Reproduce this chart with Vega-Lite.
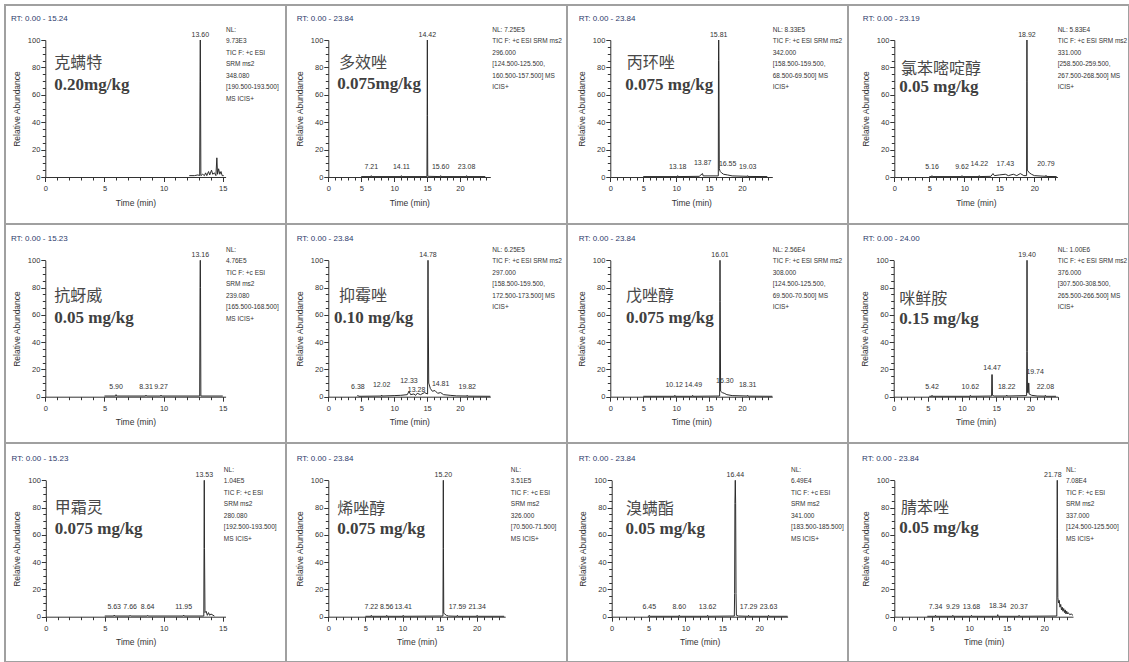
{
"$schema":"https://vega.github.io/schema/vega-lite/v6.json",
"padding":{"left":4,"top":4,"right":0,"bottom":0},
"background":"white",
"bounds":"flush",
"spacing":0,
"columns":4,
"config":{
 "view":{"stroke":"#a0a0a0","strokeWidth":2},
 "axis":{"grid":false,"labelFlush":false,"labelOverlap":false,"domainColor":"#333","tickColor":"#333","domainWidth":1,"tickWidth":1,"labelFont":"Liberation Sans","labelFontSize":7.5,"labelColor":"#333","titleFont":"Liberation Sans","titleFontSize":8.5,"titleFontWeight":"normal","titleColor":"#333"},
 "axisX":{"labelPadding":3,"titlePadding":6},
 "axisY":{"labelPadding":1,"titlePadding":6}
},
"data":{"values":[
{"p":1,"k":"tr","t":12.17,"y":1},{"p":1,"k":"tr","t":12.6,"y":1},{"p":1,"k":"tr","t":12.9,"y":1.5},{"p":1,"k":"tr","t":13.05,"y":1},{"p":1,"k":"tr","t":13.08,"y":70},{"p":1,"k":"tr","t":13.1,"y":100},{"p":1,"k":"tr","t":13.12,"y":70},{"p":1,"k":"tr","t":13.15,"y":1},{"p":1,"k":"tr","t":13.3,"y":2},{"p":1,"k":"tr","t":13.45,"y":1},{"p":1,"k":"tr","t":13.55,"y":3},{"p":1,"k":"tr","t":13.65,"y":1},{"p":1,"k":"tr","t":13.8,"y":4},{"p":1,"k":"tr","t":13.9,"y":1.5},{"p":1,"k":"tr","t":14.05,"y":5},{"p":1,"k":"tr","t":14.15,"y":2},{"p":1,"k":"tr","t":14.3,"y":3},{"p":1,"k":"tr","t":14.42,"y":1},{"p":1,"k":"tr","t":14.5,"y":14},{"p":1,"k":"tr","t":14.56,"y":2},{"p":1,"k":"tr","t":14.65,"y":6},{"p":1,"k":"tr","t":14.75,"y":2},{"p":1,"k":"tr","t":14.85,"y":4},{"p":1,"k":"tr","t":14.95,"y":1},{"p":1,"k":"tr","t":15.08,"y":1},
{"p":1,"k":"rt","t":-2.9,"y":115.5,"s":"RT: 0.00 - 15.24"},{"p":1,"k":"pk","t":13.1,"y":100,"s":"13.60"},{"p":1,"k":"nm","t":0.76,"y":83.4,"s":"克螨特"},{"p":1,"k":"cc","t":0.76,"y":67.2,"s":"0.20mg/kg"},{"p":1,"k":"nl","t":15.27,"y":109.8,"s":"NL:\n9.73E3\nTIC F: +c ESI\nSRM ms2\n348.080\n[190.500-193.500]\nMS ICIS+"},

{"p":2,"k":"tr","t":5.0,"y":0.3},{"p":2,"k":"tr","t":6.5,"y":0.3},{"p":2,"k":"tr","t":6.53,"y":1},{"p":2,"k":"tr","t":6.57,"y":0.3},{"p":2,"k":"tr","t":11.07,"y":0.3},{"p":2,"k":"tr","t":11.1,"y":1},{"p":2,"k":"tr","t":11.14,"y":0.3},{"p":2,"k":"tr","t":14.98,"y":0.3},{"p":2,"k":"tr","t":15.01,"y":45},{"p":2,"k":"tr","t":15.04,"y":100},{"p":2,"k":"tr","t":15.07,"y":45},{"p":2,"k":"tr","t":15.1,"y":0.5},{"p":2,"k":"tr","t":17.03,"y":0.3},{"p":2,"k":"tr","t":17.06,"y":1},{"p":2,"k":"tr","t":17.1,"y":0.3},{"p":2,"k":"tr","t":20.97,"y":0.3},{"p":2,"k":"tr","t":21.0,"y":1},{"p":2,"k":"tr","t":21.04,"y":0.3},{"p":2,"k":"tr","t":23.84,"y":0.3},
{"p":2,"k":"rt","t":-4.8,"y":115.5,"s":"RT: 0.00 - 23.84"},{"p":2,"k":"pk","t":15.04,"y":100,"s":"14.42"},{"p":2,"k":"pk","t":6.53,"y":4,"s":"7.21"},{"p":2,"k":"pk","t":11.1,"y":4,"s":"14.11"},{"p":2,"k":"pk","t":17.06,"y":4,"s":"15.60"},{"p":2,"k":"pk","t":21.0,"y":4,"s":"23.08"},{"p":2,"k":"nm","t":1.62,"y":83.4,"s":"多效唑"},{"p":2,"k":"cc","t":1.37,"y":67.7,"s":"0.075mg/kg"},{"p":2,"k":"nl","t":24.9,"y":109.8,"s":"NL: 7.25E5\nTIC F: +c ESI SRM ms2\n296.000\n[124.500-125.500,\n160.500-157.500] MS\nICIS+"},

{"p":3,"k":"tr","t":5.0,"y":0.3},{"p":3,"k":"tr","t":10.2,"y":0.3},{"p":3,"k":"tr","t":10.23,"y":1},{"p":3,"k":"tr","t":10.27,"y":0.3},{"p":3,"k":"tr","t":13.5,"y":0.5},{"p":3,"k":"tr","t":14.0,"y":2.5},{"p":3,"k":"tr","t":14.1,"y":0.8},{"p":3,"k":"tr","t":16.4,"y":0.8},{"p":3,"k":"tr","t":16.43,"y":85},{"p":3,"k":"tr","t":16.46,"y":100},{"p":3,"k":"tr","t":16.49,"y":85},{"p":3,"k":"tr","t":16.55,"y":6},{"p":3,"k":"tr","t":16.7,"y":4},{"p":3,"k":"tr","t":16.9,"y":3},{"p":3,"k":"tr","t":17.2,"y":2},{"p":3,"k":"tr","t":17.8,"y":1.5},{"p":3,"k":"tr","t":18.5,"y":0.8},{"p":3,"k":"tr","t":20.83,"y":0.5},{"p":3,"k":"tr","t":20.86,"y":1},{"p":3,"k":"tr","t":20.9,"y":0.4},{"p":3,"k":"tr","t":23.84,"y":0.3},
{"p":3,"k":"rt","t":-4.8,"y":115.5,"s":"RT: 0.00 - 23.84"},{"p":3,"k":"pk","t":16.46,"y":100,"s":"15.81"},{"p":3,"k":"pk","t":10.23,"y":4,"s":"13.18"},{"p":3,"k":"pk","t":14.03,"y":6.5,"s":"13.87"},{"p":3,"k":"pk","t":17.82,"y":5.5,"s":"16.55"},{"p":3,"k":"pk","t":20.86,"y":4,"s":"19.03"},{"p":3,"k":"nm","t":2.49,"y":83.4,"s":"丙环唑"},{"p":3,"k":"cc","t":2.28,"y":66.9,"s":"0.075 mg/kg"},{"p":3,"k":"nl","t":24.66,"y":109.8,"s":"NL: 8.33E5\nTIC F: +c ESI SRM ms2\n342.000\n[158.500-159.500,\n68.500-69.500] MS\nICIS+"},

{"p":4,"k":"tr","t":5.0,"y":0.3},{"p":4,"k":"tr","t":5.35,"y":0.3},{"p":4,"k":"tr","t":5.38,"y":1},{"p":4,"k":"tr","t":5.42,"y":0.3},{"p":4,"k":"tr","t":9.64,"y":0.3},{"p":4,"k":"tr","t":9.67,"y":1},{"p":4,"k":"tr","t":9.71,"y":0.3},{"p":4,"k":"tr","t":12.11,"y":0.3},{"p":4,"k":"tr","t":12.14,"y":1},{"p":4,"k":"tr","t":12.18,"y":0.3},{"p":4,"k":"tr","t":13.8,"y":0.5},{"p":4,"k":"tr","t":14.1,"y":2.5},{"p":4,"k":"tr","t":14.3,"y":1},{"p":4,"k":"tr","t":15.0,"y":1.5},{"p":4,"k":"tr","t":15.86,"y":2},{"p":4,"k":"tr","t":16.3,"y":1},{"p":4,"k":"tr","t":17.0,"y":2},{"p":4,"k":"tr","t":17.5,"y":1},{"p":4,"k":"tr","t":18.0,"y":2.5},{"p":4,"k":"tr","t":18.5,"y":1},{"p":4,"k":"tr","t":18.9,"y":1},{"p":4,"k":"tr","t":18.93,"y":70},{"p":4,"k":"tr","t":18.95,"y":100},{"p":4,"k":"tr","t":18.97,"y":70},{"p":4,"k":"tr","t":19.0,"y":5},{"p":4,"k":"tr","t":19.3,"y":3},{"p":4,"k":"tr","t":19.6,"y":2},{"p":4,"k":"tr","t":20.0,"y":1},{"p":4,"k":"tr","t":21.64,"y":0.5},{"p":4,"k":"tr","t":21.67,"y":1.2},{"p":4,"k":"tr","t":21.71,"y":0.4},{"p":4,"k":"tr","t":23.19,"y":0.3},
{"p":4,"k":"rt","t":-4.5,"y":115.5,"s":"RT: 0.00 - 23.19"},{"p":4,"k":"pk","t":18.95,"y":100,"s":"18.92"},{"p":4,"k":"pk","t":5.38,"y":4,"s":"5.16"},{"p":4,"k":"pk","t":9.67,"y":4,"s":"9.62"},{"p":4,"k":"pk","t":12.14,"y":6,"s":"14.22"},{"p":4,"k":"pk","t":15.86,"y":6,"s":"17.43"},{"p":4,"k":"pk","t":21.67,"y":5.5,"s":"20.79"},{"p":4,"k":"nm","t":0.96,"y":78.6,"s":"氯苯嘧啶醇"},{"p":4,"k":"cc","t":0.71,"y":65.5,"s":"0.05 mg/kg"},{"p":4,"k":"nl","t":23.34,"y":109.8,"s":"NL: 5.83E4\nTIC F: +c ESI SRM ms2\n331.000\n[258.500-259.500,\n267.500-268.500] MS\nICIS+"},

{"p":5,"k":"tr","t":5.0,"y":0.5},{"p":5,"k":"tr","t":5.95,"y":0.5},{"p":5,"k":"tr","t":5.98,"y":1.5},{"p":5,"k":"tr","t":6.02,"y":0.5},{"p":5,"k":"tr","t":8.48,"y":0.5},{"p":5,"k":"tr","t":8.51,"y":1.2},{"p":5,"k":"tr","t":8.55,"y":0.5},{"p":5,"k":"tr","t":9.75,"y":0.5},{"p":5,"k":"tr","t":9.78,"y":1.2},{"p":5,"k":"tr","t":9.82,"y":0.5},{"p":5,"k":"tr","t":13.05,"y":0.5},{"p":5,"k":"tr","t":13.08,"y":80},{"p":5,"k":"tr","t":13.1,"y":100},{"p":5,"k":"tr","t":13.12,"y":80},{"p":5,"k":"tr","t":13.15,"y":0.5},{"p":5,"k":"tr","t":15.0,"y":0.5},
{"p":5,"k":"rt","t":-2.9,"y":115.5,"s":"RT: 0.00 - 15.23"},{"p":5,"k":"pk","t":13.1,"y":100,"s":"13.16"},{"p":5,"k":"pk","t":5.98,"y":3.3,"s":"5.90"},{"p":5,"k":"pk","t":8.51,"y":3.3,"s":"8.31"},{"p":5,"k":"pk","t":9.78,"y":3.3,"s":"9.27"},{"p":5,"k":"nm","t":0.76,"y":73.8,"s":"抗蚜威"},{"p":5,"k":"cc","t":0.76,"y":57.5,"s":"0.05 mg/kg"},{"p":5,"k":"nl","t":15.27,"y":109.8,"s":"NL:\n4.76E5\nTIC F: +c ESI\nSRM ms2\n239.080\n[165.500-168.500]\nMS ICIS+"},

{"p":6,"k":"tr","t":4.4,"y":0.3},{"p":6,"k":"tr","t":4.5,"y":1},{"p":6,"k":"tr","t":4.6,"y":0.3},{"p":6,"k":"tr","t":8.07,"y":0.5},{"p":6,"k":"tr","t":8.1,"y":1.2},{"p":6,"k":"tr","t":8.14,"y":0.5},{"p":6,"k":"tr","t":10.0,"y":0.8},{"p":6,"k":"tr","t":11.0,"y":1},{"p":6,"k":"tr","t":12.0,"y":1.5},{"p":6,"k":"tr","t":12.25,"y":4},{"p":6,"k":"tr","t":12.5,"y":1.5},{"p":6,"k":"tr","t":13.0,"y":2},{"p":6,"k":"tr","t":13.27,"y":1},{"p":6,"k":"tr","t":13.5,"y":2.5},{"p":6,"k":"tr","t":14.0,"y":1.5},{"p":6,"k":"tr","t":14.6,"y":3},{"p":6,"k":"tr","t":15.08,"y":2},{"p":6,"k":"tr","t":15.11,"y":65},{"p":6,"k":"tr","t":15.14,"y":100},{"p":6,"k":"tr","t":15.17,"y":65},{"p":6,"k":"tr","t":15.25,"y":10},{"p":6,"k":"tr","t":15.5,"y":6},{"p":6,"k":"tr","t":15.8,"y":4},{"p":6,"k":"tr","t":16.2,"y":4.5},{"p":6,"k":"tr","t":16.6,"y":2.5},{"p":6,"k":"tr","t":17.06,"y":3},{"p":6,"k":"tr","t":17.5,"y":1.5},{"p":6,"k":"tr","t":18.5,"y":1},{"p":6,"k":"tr","t":19.5,"y":0.6},{"p":6,"k":"tr","t":21.07,"y":0.5},{"p":6,"k":"tr","t":21.1,"y":1},{"p":6,"k":"tr","t":21.14,"y":0.4},{"p":6,"k":"tr","t":24.6,"y":0.3},
{"p":6,"k":"rt","t":-4.8,"y":115.5,"s":"RT: 0.00 - 23.84"},{"p":6,"k":"pk","t":15.14,"y":100,"s":"14.78"},{"p":6,"k":"pk","t":4.5,"y":3.3,"s":"6.38"},{"p":6,"k":"pk","t":8.1,"y":5,"s":"12.02"},{"p":6,"k":"pk","t":12.25,"y":8,"s":"12.33"},{"p":6,"k":"pk","t":13.4,"y":1.3,"s":"13.28"},{"p":6,"k":"pk","t":17.06,"y":5.7,"s":"14.81"},{"p":6,"k":"pk","t":21.1,"y":3.8,"s":"19.82"},{"p":6,"k":"nm","t":1.62,"y":73.8,"s":"抑霉唑"},{"p":6,"k":"cc","t":0.87,"y":57.9,"s":"0.10 mg/kg"},{"p":6,"k":"nl","t":24.9,"y":109.8,"s":"NL: 6.25E5\nTIC F: +c ESI SRM ms2\n297.000\n[158.500-159.500,\n172.500-173.500] MS\nICIS+"},

{"p":7,"k":"tr","t":5.0,"y":0.3},{"p":7,"k":"tr","t":9.77,"y":0.3},{"p":7,"k":"tr","t":9.8,"y":1},{"p":7,"k":"tr","t":9.84,"y":0.3},{"p":7,"k":"tr","t":12.47,"y":0.3},{"p":7,"k":"tr","t":12.5,"y":1},{"p":7,"k":"tr","t":12.54,"y":0.3},{"p":7,"k":"tr","t":16.6,"y":0.5},{"p":7,"k":"tr","t":16.63,"y":70},{"p":7,"k":"tr","t":16.66,"y":100},{"p":7,"k":"tr","t":16.69,"y":70},{"p":7,"k":"tr","t":16.75,"y":4},{"p":7,"k":"tr","t":17.0,"y":3},{"p":7,"k":"tr","t":17.3,"y":2.5},{"p":7,"k":"tr","t":17.7,"y":1.5},{"p":7,"k":"tr","t":18.5,"y":0.8},{"p":7,"k":"tr","t":20.83,"y":0.5},{"p":7,"k":"tr","t":20.86,"y":1},{"p":7,"k":"tr","t":20.9,"y":0.4},{"p":7,"k":"tr","t":24.6,"y":0.3},
{"p":7,"k":"rt","t":-4.8,"y":115.5,"s":"RT: 0.00 - 23.84"},{"p":7,"k":"pk","t":16.66,"y":100,"s":"16.01"},{"p":7,"k":"pk","t":9.7,"y":5,"s":"10.12"},{"p":7,"k":"pk","t":12.6,"y":5,"s":"14.49"},{"p":7,"k":"pk","t":17.4,"y":7.5,"s":"16.30"},{"p":7,"k":"pk","t":20.86,"y":5,"s":"18.31"},{"p":7,"k":"nm","t":2.38,"y":73.8,"s":"戊唑醇"},{"p":7,"k":"cc","t":2.38,"y":57.9,"s":"0.075 mg/kg"},{"p":7,"k":"nl","t":24.66,"y":109.8,"s":"NL: 2.56E4\nTIC F: +c ESI SRM ms2\n308.000\n[124.500-125.500,\n69.500-70.500] MS\nICIS+"},

{"p":8,"k":"tr","t":5.2,"y":0.3},{"p":8,"k":"tr","t":5.58,"y":0.3},{"p":8,"k":"tr","t":5.61,"y":1},{"p":8,"k":"tr","t":5.65,"y":0.3},{"p":8,"k":"tr","t":11.19,"y":0.3},{"p":8,"k":"tr","t":11.22,"y":1},{"p":8,"k":"tr","t":11.26,"y":0.3},{"p":8,"k":"tr","t":14.33,"y":0.5},{"p":8,"k":"tr","t":14.36,"y":16},{"p":8,"k":"tr","t":14.39,"y":16.3},{"p":8,"k":"tr","t":14.42,"y":16},{"p":8,"k":"tr","t":14.45,"y":1},{"p":8,"k":"tr","t":14.7,"y":0.5},{"p":8,"k":"tr","t":16.51,"y":0.5},{"p":8,"k":"tr","t":16.54,"y":1.2},{"p":8,"k":"tr","t":16.58,"y":0.5},{"p":8,"k":"tr","t":19.45,"y":0.8},{"p":8,"k":"tr","t":19.48,"y":33},{"p":8,"k":"tr","t":19.51,"y":100},{"p":8,"k":"tr","t":19.54,"y":33},{"p":8,"k":"tr","t":19.58,"y":3},{"p":8,"k":"tr","t":19.7,"y":3},{"p":8,"k":"tr","t":19.74,"y":10},{"p":8,"k":"tr","t":19.78,"y":10},{"p":8,"k":"tr","t":19.82,"y":2},{"p":8,"k":"tr","t":20.2,"y":1},{"p":8,"k":"tr","t":21.0,"y":0.5},{"p":8,"k":"tr","t":22.17,"y":0.4},{"p":8,"k":"tr","t":22.2,"y":1},{"p":8,"k":"tr","t":22.24,"y":0.3},{"p":8,"k":"tr","t":23.76,"y":0.3},
{"p":8,"k":"rt","t":-4.5,"y":115.5,"s":"RT: 0.00 - 24.00"},{"p":8,"k":"pk","t":19.51,"y":100,"s":"19.40"},{"p":8,"k":"pk","t":14.39,"y":17.5,"s":"14.47"},{"p":8,"k":"pk","t":20.7,"y":14.8,"s":"19.74"},{"p":8,"k":"pk","t":5.61,"y":3.3,"s":"5.42"},{"p":8,"k":"pk","t":11.22,"y":3.3,"s":"10.62"},{"p":8,"k":"pk","t":16.54,"y":3.3,"s":"18.22"},{"p":8,"k":"pk","t":22.2,"y":3.3,"s":"22.08"},{"p":8,"k":"nm","t":0.82,"y":71.4,"s":"咪鲜胺"},{"p":8,"k":"cc","t":0.82,"y":56.7,"s":"0.15 mg/kg"},{"p":8,"k":"nl","t":24.0,"y":109.8,"s":"NL: 1.00E6\nTIC F: +c ESI SRM ms2\n376.000\n[307.500-308.500,\n265.500-266.500] MS\nICIS+"},

{"p":9,"k":"tr","t":5.0,"y":0.5},{"p":9,"k":"tr","t":5.77,"y":0.5},{"p":9,"k":"tr","t":5.8,"y":1.2},{"p":9,"k":"tr","t":5.84,"y":0.5},{"p":9,"k":"tr","t":7.12,"y":0.5},{"p":9,"k":"tr","t":7.15,"y":1},{"p":9,"k":"tr","t":7.19,"y":0.5},{"p":9,"k":"tr","t":8.61,"y":0.5},{"p":9,"k":"tr","t":8.64,"y":1},{"p":9,"k":"tr","t":8.68,"y":0.5},{"p":9,"k":"tr","t":11.66,"y":0.5},{"p":9,"k":"tr","t":11.69,"y":1.2},{"p":9,"k":"tr","t":11.73,"y":0.5},{"p":9,"k":"tr","t":13.4,"y":0.5},{"p":9,"k":"tr","t":13.42,"y":50},{"p":9,"k":"tr","t":13.44,"y":100},{"p":9,"k":"tr","t":13.46,"y":50},{"p":9,"k":"tr","t":13.5,"y":3},{"p":9,"k":"tr","t":13.6,"y":4},{"p":9,"k":"tr","t":13.7,"y":1},{"p":9,"k":"tr","t":13.8,"y":3},{"p":9,"k":"tr","t":13.9,"y":1},{"p":9,"k":"tr","t":14.0,"y":2},{"p":9,"k":"tr","t":14.3,"y":0.5},
{"p":9,"k":"rt","t":-2.9,"y":115.5,"s":"RT: 0.00 - 15.23"},{"p":9,"k":"pk","t":13.44,"y":100,"s":"13.53"},{"p":9,"k":"pk","t":5.8,"y":3.3,"s":"5.63"},{"p":9,"k":"pk","t":7.15,"y":3.3,"s":"7.66"},{"p":9,"k":"pk","t":8.64,"y":3.3,"s":"8.64"},{"p":9,"k":"pk","t":11.69,"y":3.3,"s":"11.95"},{"p":9,"k":"nm","t":0.76,"y":79.9,"s":"甲霜灵"},{"p":9,"k":"cc","t":0.76,"y":64.1,"s":"0.075 mg/kg"},{"p":9,"k":"nl","t":15.1,"y":109.8,"s":"NL:\n1.04E5\nTIC F: +c ESI\nSRM ms2\n280.080\n[192.500-193.500]\nMS ICIS+"},

{"p":10,"k":"tr","t":5.0,"y":0.3},{"p":10,"k":"tr","t":5.77,"y":0.3},{"p":10,"k":"tr","t":5.8,"y":1},{"p":10,"k":"tr","t":5.84,"y":0.3},{"p":10,"k":"tr","t":7.84,"y":0.3},{"p":10,"k":"tr","t":7.87,"y":1},{"p":10,"k":"tr","t":7.91,"y":0.3},{"p":10,"k":"tr","t":10.07,"y":0.3},{"p":10,"k":"tr","t":10.1,"y":1},{"p":10,"k":"tr","t":10.14,"y":0.3},{"p":10,"k":"tr","t":15.45,"y":0.5},{"p":10,"k":"tr","t":15.48,"y":50},{"p":10,"k":"tr","t":15.5,"y":100},{"p":10,"k":"tr","t":15.52,"y":50},{"p":10,"k":"tr","t":15.56,"y":2.5},{"p":10,"k":"tr","t":15.7,"y":2},{"p":10,"k":"tr","t":15.9,"y":1},{"p":10,"k":"tr","t":16.2,"y":0.5},{"p":10,"k":"tr","t":17.37,"y":0.3},{"p":10,"k":"tr","t":17.4,"y":1},{"p":10,"k":"tr","t":17.44,"y":0.3},{"p":10,"k":"tr","t":20.03,"y":0.3},{"p":10,"k":"tr","t":20.06,"y":1},{"p":10,"k":"tr","t":20.1,"y":0.3},{"p":10,"k":"tr","t":23.7,"y":0.3},
{"p":10,"k":"rt","t":-4.26,"y":115.5,"s":"RT: 0.00 - 23.84"},{"p":10,"k":"pk","t":15.5,"y":100,"s":"15.20"},{"p":10,"k":"pk","t":5.8,"y":3.3,"s":"7.22"},{"p":10,"k":"pk","t":7.87,"y":3.3,"s":"8.56"},{"p":10,"k":"pk","t":10.1,"y":3.3,"s":"13.41"},{"p":10,"k":"pk","t":17.4,"y":3.3,"s":"17.59"},{"p":10,"k":"pk","t":20.06,"y":3.3,"s":"21.34"},{"p":10,"k":"nm","t":1.21,"y":78.7,"s":"烯唑醇"},{"p":10,"k":"cc","t":1.21,"y":64.1,"s":"0.075 mg/kg"},{"p":10,"k":"nl","t":24.6,"y":109.8,"s":"NL:\n3.51E5\nTIC F: +c ESI\nSRM ms2\n326.000\n[70.500-71.500]\nMS ICIS+"},

{"p":11,"k":"tr","t":4.9,"y":0.3},{"p":11,"k":"tr","t":5.07,"y":0.3},{"p":11,"k":"tr","t":5.1,"y":1},{"p":11,"k":"tr","t":5.14,"y":0.3},{"p":11,"k":"tr","t":9.13,"y":0.3},{"p":11,"k":"tr","t":9.16,"y":1},{"p":11,"k":"tr","t":9.2,"y":0.3},{"p":11,"k":"tr","t":12.97,"y":0.3},{"p":11,"k":"tr","t":13.0,"y":1},{"p":11,"k":"tr","t":13.04,"y":0.3},{"p":11,"k":"tr","t":16.62,"y":0.5},{"p":11,"k":"tr","t":16.66,"y":17},{"p":11,"k":"tr","t":16.7,"y":83},{"p":11,"k":"tr","t":16.75,"y":100},{"p":11,"k":"tr","t":16.8,"y":83},{"p":11,"k":"tr","t":16.85,"y":17},{"p":11,"k":"tr","t":16.9,"y":1},{"p":11,"k":"tr","t":17.2,"y":0.5},{"p":11,"k":"tr","t":18.52,"y":0.3},{"p":11,"k":"tr","t":18.55,"y":1},{"p":11,"k":"tr","t":18.59,"y":0.3},{"p":11,"k":"tr","t":21.23,"y":0.3},{"p":11,"k":"tr","t":21.26,"y":1},{"p":11,"k":"tr","t":21.3,"y":0.3},{"p":11,"k":"tr","t":23.84,"y":0.3},
{"p":11,"k":"rt","t":-4.47,"y":115.5,"s":"RT: 0.00 - 23.84"},{"p":11,"k":"pk","t":16.75,"y":100,"s":"16.44"},{"p":11,"k":"pk","t":5.1,"y":3.3,"s":"6.45"},{"p":11,"k":"pk","t":9.16,"y":3.3,"s":"8.60"},{"p":11,"k":"pk","t":13.0,"y":3.3,"s":"13.62"},{"p":11,"k":"pk","t":18.55,"y":3.3,"s":"17.29"},{"p":11,"k":"pk","t":21.26,"y":3.3,"s":"23.63"},{"p":11,"k":"nm","t":1.94,"y":78.7,"s":"溴螨酯"},{"p":11,"k":"cc","t":1.88,"y":64.1,"s":"0.05 mg/kg"},{"p":11,"k":"nl","t":24.3,"y":109.8,"s":"NL:\n6.49E4\nTIC F: +c ESI\nSRM ms2\n341.000\n[183.500-185.500]\nMS ICIS+"},

{"p":12,"k":"tr","t":4.4,"y":0.3},{"p":12,"k":"tr","t":5.47,"y":0.3},{"p":12,"k":"tr","t":5.5,"y":1},{"p":12,"k":"tr","t":5.54,"y":0.3},{"p":12,"k":"tr","t":7.77,"y":0.3},{"p":12,"k":"tr","t":7.8,"y":1},{"p":12,"k":"tr","t":7.84,"y":0.3},{"p":12,"k":"tr","t":10.27,"y":0.3},{"p":12,"k":"tr","t":10.3,"y":1},{"p":12,"k":"tr","t":10.34,"y":0.3},{"p":12,"k":"tr","t":13.77,"y":0.3},{"p":12,"k":"tr","t":13.8,"y":1.5},{"p":12,"k":"tr","t":13.84,"y":0.3},{"p":12,"k":"tr","t":16.62,"y":0.3},{"p":12,"k":"tr","t":16.65,"y":1},{"p":12,"k":"tr","t":16.69,"y":0.3},{"p":12,"k":"tr","t":21.68,"y":0.5},{"p":12,"k":"tr","t":21.71,"y":57},{"p":12,"k":"tr","t":21.74,"y":100},{"p":12,"k":"tr","t":21.77,"y":57},{"p":12,"k":"tr","t":21.82,"y":14},{"p":12,"k":"tr","t":21.9,"y":10},{"p":12,"k":"tr","t":22.0,"y":12},{"p":12,"k":"tr","t":22.1,"y":7},{"p":12,"k":"tr","t":22.2,"y":9},{"p":12,"k":"tr","t":22.3,"y":5},{"p":12,"k":"tr","t":22.4,"y":7},{"p":12,"k":"tr","t":22.5,"y":4},{"p":12,"k":"tr","t":22.6,"y":6},{"p":12,"k":"tr","t":22.7,"y":3},{"p":12,"k":"tr","t":22.8,"y":5},{"p":12,"k":"tr","t":22.9,"y":2},{"p":12,"k":"tr","t":23.0,"y":4},{"p":12,"k":"tr","t":23.1,"y":2},{"p":12,"k":"tr","t":23.2,"y":3},{"p":12,"k":"tr","t":23.4,"y":1.5},{"p":12,"k":"tr","t":23.6,"y":2},{"p":12,"k":"tr","t":23.84,"y":1},
{"p":12,"k":"rt","t":-4.3,"y":115.5,"s":"RT: 0.00 - 23.84"},{"p":12,"k":"pk","t":21.15,"y":100,"s":"21.78"},{"p":12,"k":"pk","t":5.5,"y":3.3,"s":"7.34"},{"p":12,"k":"pk","t":7.8,"y":3.3,"s":"9.29"},{"p":12,"k":"pk","t":10.3,"y":3.3,"s":"13.68"},{"p":12,"k":"pk","t":13.8,"y":4.5,"s":"18.34"},{"p":12,"k":"pk","t":16.65,"y":3.3,"s":"20.37"},{"p":12,"k":"nm","t":0.89,"y":79.9,"s":"腈苯唑"},{"p":12,"k":"cc","t":0.67,"y":64.8,"s":"0.05 mg/kg"},{"p":12,"k":"nl","t":22.9,"y":109.8,"s":"NL:\n7.08E4\nTIC F: +c ESI\nSRM ms2\n337.000\n[124.500-125.500]\nMS ICIS+"}
]},
"concat":[
{"width":281,"height":219,"transform":[{"filter":"datum.p==1"}],
 "encoding":{
  "x":{"field":"t","type":"quantitative","scale":{"domain":[0,15.24],"range":[40.3,220.6],"nice":false,"zero":false},"axis":{"offset":-47,"values":[0,1,2,3,4,5,6,7,8,9,10,11,12,13,14,15],"labelExpr":"datum.value % 5 === 0 ? datum.label : ''","tickSize":{"condition":{"test":"datum.value % 5 === 0","value":4.5},"value":3},"title":"Time (min)"}},
  "y":{"field":"y","type":"quantitative","scale":{"domain":[0,100],"range":[172,35],"nice":false,"zero":false},"axis":{"offset":-40.3,"values":[0,5,10,15,20,25,30,35,40,45,50,55,60,65,70,75,80,85,90,95,100],"labelExpr":"datum.value % 20 === 0 ? datum.label : ''","tickSize":{"condition":{"test":"datum.value % 20 === 0","value":4.5},"value":3},"title":"Relative Abundance"}}},
 "layer":[
  {"transform":[{"filter":"datum.k=='tr'"}],"mark":{"type":"line","color":"#2b2b2b","strokeWidth":1}},
  {"transform":[{"filter":"datum.k=='rt'"}],"mark":{"type":"text","align":"left","baseline":"middle","font":"Liberation Sans","fontSize":8,"color":"#2d3a6b"},"encoding":{"text":{"field":"s"}}},
  {"transform":[{"filter":"datum.k=='pk'"}],"mark":{"type":"text","align":"center","baseline":"bottom","dy":-2,"font":"Liberation Sans","fontSize":7,"color":"#333"},"encoding":{"text":{"field":"s"}}},
  {"transform":[{"filter":"datum.k=='nm'"}],"mark":{"type":"text","align":"left","baseline":"middle","font":"Noto Sans CJK SC","fontSize":16,"color":"#484848"},"encoding":{"text":{"field":"s"}}},
  {"transform":[{"filter":"datum.k=='cc'"}],"mark":{"type":"text","align":"left","baseline":"middle","font":"Liberation Serif","fontSize":17,"fontWeight":"bold","color":"#404040"},"encoding":{"text":{"field":"s"}}},
  {"transform":[{"filter":"datum.k=='nl'"}],"mark":{"type":"text","align":"left","baseline":"top","font":"Liberation Sans","fontSize":6.5,"lineHeight":11.5,"lineBreak":"\n","color":"#333"},"encoding":{"text":{"field":"s"}}}
 ]},
{"width":281,"height":219,"transform":[{"filter":"datum.p==2"}],
 "encoding":{
  "x":{"field":"t","type":"quantitative","scale":{"domain":[0,24.6],"range":[42.3,204.3],"nice":false,"zero":false},"axis":{"offset":-47,"values":[0,1,2,3,4,5,6,7,8,9,10,11,12,13,14,15,16,17,18,19,20,21,22,23,24],"labelExpr":"datum.value % 5 === 0 ? datum.label : ''","tickSize":{"condition":{"test":"datum.value % 5 === 0","value":4.5},"value":3},"title":"Time (min)"}},
  "y":{"field":"y","type":"quantitative","scale":{"domain":[0,100],"range":[172,35],"nice":false,"zero":false},"axis":{"offset":-42.3,"values":[0,5,10,15,20,25,30,35,40,45,50,55,60,65,70,75,80,85,90,95,100],"labelExpr":"datum.value % 20 === 0 ? datum.label : ''","tickSize":{"condition":{"test":"datum.value % 20 === 0","value":4.5},"value":3},"title":"Relative Abundance"}}},
 "layer":[
  {"transform":[{"filter":"datum.k=='tr'"}],"mark":{"type":"line","color":"#2b2b2b","strokeWidth":1}},
  {"transform":[{"filter":"datum.k=='rt'"}],"mark":{"type":"text","align":"left","baseline":"middle","font":"Liberation Sans","fontSize":8,"color":"#2d3a6b"},"encoding":{"text":{"field":"s"}}},
  {"transform":[{"filter":"datum.k=='pk'"}],"mark":{"type":"text","align":"center","baseline":"bottom","dy":-2,"font":"Liberation Sans","fontSize":7,"color":"#333"},"encoding":{"text":{"field":"s"}}},
  {"transform":[{"filter":"datum.k=='nm'"}],"mark":{"type":"text","align":"left","baseline":"middle","font":"Noto Sans CJK SC","fontSize":16,"color":"#484848"},"encoding":{"text":{"field":"s"}}},
  {"transform":[{"filter":"datum.k=='cc'"}],"mark":{"type":"text","align":"left","baseline":"middle","font":"Liberation Serif","fontSize":17,"fontWeight":"bold","color":"#404040"},"encoding":{"text":{"field":"s"}}},
  {"transform":[{"filter":"datum.k=='nl'"}],"mark":{"type":"text","align":"left","baseline":"top","font":"Liberation Sans","fontSize":6.5,"lineHeight":11.5,"lineBreak":"\n","color":"#333"},"encoding":{"text":{"field":"s"}}}
 ]},
{"width":281,"height":219,"transform":[{"filter":"datum.p==3"}],
 "encoding":{
  "x":{"field":"t","type":"quantitative","scale":{"domain":[0,24.6],"range":[43.3,205.3],"nice":false,"zero":false},"axis":{"offset":-47,"values":[0,1,2,3,4,5,6,7,8,9,10,11,12,13,14,15,16,17,18,19,20,21,22,23,24],"labelExpr":"datum.value % 5 === 0 ? datum.label : ''","tickSize":{"condition":{"test":"datum.value % 5 === 0","value":4.5},"value":3},"title":"Time (min)"}},
  "y":{"field":"y","type":"quantitative","scale":{"domain":[0,100],"range":[172,35],"nice":false,"zero":false},"axis":{"offset":-43.3,"values":[0,5,10,15,20,25,30,35,40,45,50,55,60,65,70,75,80,85,90,95,100],"labelExpr":"datum.value % 20 === 0 ? datum.label : ''","tickSize":{"condition":{"test":"datum.value % 20 === 0","value":4.5},"value":3},"title":"Relative Abundance"}}},
 "layer":[
  {"transform":[{"filter":"datum.k=='tr'"}],"mark":{"type":"line","color":"#2b2b2b","strokeWidth":1}},
  {"transform":[{"filter":"datum.k=='rt'"}],"mark":{"type":"text","align":"left","baseline":"middle","font":"Liberation Sans","fontSize":8,"color":"#2d3a6b"},"encoding":{"text":{"field":"s"}}},
  {"transform":[{"filter":"datum.k=='pk'"}],"mark":{"type":"text","align":"center","baseline":"bottom","dy":-2,"font":"Liberation Sans","fontSize":7,"color":"#333"},"encoding":{"text":{"field":"s"}}},
  {"transform":[{"filter":"datum.k=='nm'"}],"mark":{"type":"text","align":"left","baseline":"middle","font":"Noto Sans CJK SC","fontSize":16,"color":"#484848"},"encoding":{"text":{"field":"s"}}},
  {"transform":[{"filter":"datum.k=='cc'"}],"mark":{"type":"text","align":"left","baseline":"middle","font":"Liberation Serif","fontSize":17,"fontWeight":"bold","color":"#404040"},"encoding":{"text":{"field":"s"}}},
  {"transform":[{"filter":"datum.k=='nl'"}],"mark":{"type":"text","align":"left","baseline":"top","font":"Liberation Sans","fontSize":6.5,"lineHeight":11.5,"lineBreak":"\n","color":"#333"},"encoding":{"text":{"field":"s"}}}
 ]},
{"width":281,"height":219,"transform":[{"filter":"datum.p==4"}],
 "encoding":{
  "x":{"field":"t","type":"quantitative","scale":{"domain":[0,23.3],"range":[46.3,209.4],"nice":false,"zero":false},"axis":{"offset":-47,"values":[0,1,2,3,4,5,6,7,8,9,10,11,12,13,14,15,16,17,18,19,20,21,22,23],"labelExpr":"datum.value % 5 === 0 ? datum.label : ''","tickSize":{"condition":{"test":"datum.value % 5 === 0","value":4.5},"value":3},"title":"Time (min)"}},
  "y":{"field":"y","type":"quantitative","scale":{"domain":[0,100],"range":[172,35],"nice":false,"zero":false},"axis":{"offset":-46.3,"values":[0,5,10,15,20,25,30,35,40,45,50,55,60,65,70,75,80,85,90,95,100],"labelExpr":"datum.value % 20 === 0 ? datum.label : ''","tickSize":{"condition":{"test":"datum.value % 20 === 0","value":4.5},"value":3},"title":"Relative Abundance"}}},
 "layer":[
  {"transform":[{"filter":"datum.k=='tr'"}],"mark":{"type":"line","color":"#2b2b2b","strokeWidth":1}},
  {"transform":[{"filter":"datum.k=='rt'"}],"mark":{"type":"text","align":"left","baseline":"middle","font":"Liberation Sans","fontSize":8,"color":"#2d3a6b"},"encoding":{"text":{"field":"s"}}},
  {"transform":[{"filter":"datum.k=='pk'"}],"mark":{"type":"text","align":"center","baseline":"bottom","dy":-2,"font":"Liberation Sans","fontSize":7,"color":"#333"},"encoding":{"text":{"field":"s"}}},
  {"transform":[{"filter":"datum.k=='nm'"}],"mark":{"type":"text","align":"left","baseline":"middle","font":"Noto Sans CJK SC","fontSize":16,"color":"#484848"},"encoding":{"text":{"field":"s"}}},
  {"transform":[{"filter":"datum.k=='cc'"}],"mark":{"type":"text","align":"left","baseline":"middle","font":"Liberation Serif","fontSize":17,"fontWeight":"bold","color":"#404040"},"encoding":{"text":{"field":"s"}}},
  {"transform":[{"filter":"datum.k=='nl'"}],"mark":{"type":"text","align":"left","baseline":"top","font":"Liberation Sans","fontSize":6.5,"lineHeight":11.5,"lineBreak":"\n","color":"#333"},"encoding":{"text":{"field":"s"}}}
 ]},
{"width":281,"height":219,"transform":[{"filter":"datum.p==5"}],
 "encoding":{
  "x":{"field":"t","type":"quantitative","scale":{"domain":[0,15.24],"range":[40.3,220.6],"nice":false,"zero":false},"axis":{"offset":-46.3,"values":[0,1,2,3,4,5,6,7,8,9,10,11,12,13,14,15],"labelExpr":"datum.value % 5 === 0 ? datum.label : ''","tickSize":{"condition":{"test":"datum.value % 5 === 0","value":4.5},"value":3},"title":"Time (min)"}},
  "y":{"field":"y","type":"quantitative","scale":{"domain":[0,100],"range":[172.7,36.3],"nice":false,"zero":false},"axis":{"offset":-40.3,"values":[0,5,10,15,20,25,30,35,40,45,50,55,60,65,70,75,80,85,90,95,100],"labelExpr":"datum.value % 20 === 0 ? datum.label : ''","tickSize":{"condition":{"test":"datum.value % 20 === 0","value":4.5},"value":3},"title":"Relative Abundance"}}},
 "layer":[
  {"transform":[{"filter":"datum.k=='tr'"}],"mark":{"type":"line","color":"#2b2b2b","strokeWidth":1}},
  {"transform":[{"filter":"datum.k=='rt'"}],"mark":{"type":"text","align":"left","baseline":"middle","font":"Liberation Sans","fontSize":8,"color":"#2d3a6b"},"encoding":{"text":{"field":"s"}}},
  {"transform":[{"filter":"datum.k=='pk'"}],"mark":{"type":"text","align":"center","baseline":"bottom","dy":-2,"font":"Liberation Sans","fontSize":7,"color":"#333"},"encoding":{"text":{"field":"s"}}},
  {"transform":[{"filter":"datum.k=='nm'"}],"mark":{"type":"text","align":"left","baseline":"middle","font":"Noto Sans CJK SC","fontSize":16,"color":"#484848"},"encoding":{"text":{"field":"s"}}},
  {"transform":[{"filter":"datum.k=='cc'"}],"mark":{"type":"text","align":"left","baseline":"middle","font":"Liberation Serif","fontSize":17,"fontWeight":"bold","color":"#404040"},"encoding":{"text":{"field":"s"}}},
  {"transform":[{"filter":"datum.k=='nl'"}],"mark":{"type":"text","align":"left","baseline":"top","font":"Liberation Sans","fontSize":6.5,"lineHeight":11.5,"lineBreak":"\n","color":"#333"},"encoding":{"text":{"field":"s"}}}
 ]},
{"width":281,"height":219,"transform":[{"filter":"datum.p==6"}],
 "encoding":{
  "x":{"field":"t","type":"quantitative","scale":{"domain":[0,24.6],"range":[42.3,204.3],"nice":false,"zero":false},"axis":{"offset":-46.3,"values":[0,1,2,3,4,5,6,7,8,9,10,11,12,13,14,15,16,17,18,19,20,21,22,23,24],"labelExpr":"datum.value % 5 === 0 ? datum.label : ''","tickSize":{"condition":{"test":"datum.value % 5 === 0","value":4.5},"value":3},"title":"Time (min)"}},
  "y":{"field":"y","type":"quantitative","scale":{"domain":[0,100],"range":[172.7,36.3],"nice":false,"zero":false},"axis":{"offset":-42.3,"values":[0,5,10,15,20,25,30,35,40,45,50,55,60,65,70,75,80,85,90,95,100],"labelExpr":"datum.value % 20 === 0 ? datum.label : ''","tickSize":{"condition":{"test":"datum.value % 20 === 0","value":4.5},"value":3},"title":"Relative Abundance"}}},
 "layer":[
  {"transform":[{"filter":"datum.k=='tr'"}],"mark":{"type":"line","color":"#2b2b2b","strokeWidth":1}},
  {"transform":[{"filter":"datum.k=='rt'"}],"mark":{"type":"text","align":"left","baseline":"middle","font":"Liberation Sans","fontSize":8,"color":"#2d3a6b"},"encoding":{"text":{"field":"s"}}},
  {"transform":[{"filter":"datum.k=='pk'"}],"mark":{"type":"text","align":"center","baseline":"bottom","dy":-2,"font":"Liberation Sans","fontSize":7,"color":"#333"},"encoding":{"text":{"field":"s"}}},
  {"transform":[{"filter":"datum.k=='nm'"}],"mark":{"type":"text","align":"left","baseline":"middle","font":"Noto Sans CJK SC","fontSize":16,"color":"#484848"},"encoding":{"text":{"field":"s"}}},
  {"transform":[{"filter":"datum.k=='cc'"}],"mark":{"type":"text","align":"left","baseline":"middle","font":"Liberation Serif","fontSize":17,"fontWeight":"bold","color":"#404040"},"encoding":{"text":{"field":"s"}}},
  {"transform":[{"filter":"datum.k=='nl'"}],"mark":{"type":"text","align":"left","baseline":"top","font":"Liberation Sans","fontSize":6.5,"lineHeight":11.5,"lineBreak":"\n","color":"#333"},"encoding":{"text":{"field":"s"}}}
 ]},
{"width":281,"height":219,"transform":[{"filter":"datum.p==7"}],
 "encoding":{
  "x":{"field":"t","type":"quantitative","scale":{"domain":[0,24.6],"range":[43.3,205.3],"nice":false,"zero":false},"axis":{"offset":-46.3,"values":[0,1,2,3,4,5,6,7,8,9,10,11,12,13,14,15,16,17,18,19,20,21,22,23,24],"labelExpr":"datum.value % 5 === 0 ? datum.label : ''","tickSize":{"condition":{"test":"datum.value % 5 === 0","value":4.5},"value":3},"title":"Time (min)"}},
  "y":{"field":"y","type":"quantitative","scale":{"domain":[0,100],"range":[172.7,36.3],"nice":false,"zero":false},"axis":{"offset":-43.3,"values":[0,5,10,15,20,25,30,35,40,45,50,55,60,65,70,75,80,85,90,95,100],"labelExpr":"datum.value % 20 === 0 ? datum.label : ''","tickSize":{"condition":{"test":"datum.value % 20 === 0","value":4.5},"value":3},"title":"Relative Abundance"}}},
 "layer":[
  {"transform":[{"filter":"datum.k=='tr'"}],"mark":{"type":"line","color":"#2b2b2b","strokeWidth":1}},
  {"transform":[{"filter":"datum.k=='rt'"}],"mark":{"type":"text","align":"left","baseline":"middle","font":"Liberation Sans","fontSize":8,"color":"#2d3a6b"},"encoding":{"text":{"field":"s"}}},
  {"transform":[{"filter":"datum.k=='pk'"}],"mark":{"type":"text","align":"center","baseline":"bottom","dy":-2,"font":"Liberation Sans","fontSize":7,"color":"#333"},"encoding":{"text":{"field":"s"}}},
  {"transform":[{"filter":"datum.k=='nm'"}],"mark":{"type":"text","align":"left","baseline":"middle","font":"Noto Sans CJK SC","fontSize":16,"color":"#484848"},"encoding":{"text":{"field":"s"}}},
  {"transform":[{"filter":"datum.k=='cc'"}],"mark":{"type":"text","align":"left","baseline":"middle","font":"Liberation Serif","fontSize":17,"fontWeight":"bold","color":"#404040"},"encoding":{"text":{"field":"s"}}},
  {"transform":[{"filter":"datum.k=='nl'"}],"mark":{"type":"text","align":"left","baseline":"top","font":"Liberation Sans","fontSize":6.5,"lineHeight":11.5,"lineBreak":"\n","color":"#333"},"encoding":{"text":{"field":"s"}}}
 ]},
{"width":281,"height":219,"transform":[{"filter":"datum.p==8"}],
 "encoding":{
  "x":{"field":"t","type":"quantitative","scale":{"domain":[0,24],"range":[45.7,209.7],"nice":false,"zero":false},"axis":{"offset":-46.3,"values":[0,1,2,3,4,5,6,7,8,9,10,11,12,13,14,15,16,17,18,19,20,21,22,23,24],"labelExpr":"datum.value % 5 === 0 ? datum.label : ''","tickSize":{"condition":{"test":"datum.value % 5 === 0","value":4.5},"value":3},"title":"Time (min)"}},
  "y":{"field":"y","type":"quantitative","scale":{"domain":[0,100],"range":[172.7,36.3],"nice":false,"zero":false},"axis":{"offset":-45.7,"values":[0,5,10,15,20,25,30,35,40,45,50,55,60,65,70,75,80,85,90,95,100],"labelExpr":"datum.value % 20 === 0 ? datum.label : ''","tickSize":{"condition":{"test":"datum.value % 20 === 0","value":4.5},"value":3},"title":"Relative Abundance"}}},
 "layer":[
  {"transform":[{"filter":"datum.k=='tr'"}],"mark":{"type":"line","color":"#2b2b2b","strokeWidth":1}},
  {"transform":[{"filter":"datum.k=='rt'"}],"mark":{"type":"text","align":"left","baseline":"middle","font":"Liberation Sans","fontSize":8,"color":"#2d3a6b"},"encoding":{"text":{"field":"s"}}},
  {"transform":[{"filter":"datum.k=='pk'"}],"mark":{"type":"text","align":"center","baseline":"bottom","dy":-2,"font":"Liberation Sans","fontSize":7,"color":"#333"},"encoding":{"text":{"field":"s"}}},
  {"transform":[{"filter":"datum.k=='nm'"}],"mark":{"type":"text","align":"left","baseline":"middle","font":"Noto Sans CJK SC","fontSize":16,"color":"#484848"},"encoding":{"text":{"field":"s"}}},
  {"transform":[{"filter":"datum.k=='cc'"}],"mark":{"type":"text","align":"left","baseline":"middle","font":"Liberation Serif","fontSize":17,"fontWeight":"bold","color":"#404040"},"encoding":{"text":{"field":"s"}}},
  {"transform":[{"filter":"datum.k=='nl'"}],"mark":{"type":"text","align":"left","baseline":"top","font":"Liberation Sans","fontSize":6.5,"lineHeight":11.5,"lineBreak":"\n","color":"#333"},"encoding":{"text":{"field":"s"}}}
 ]},
{"width":281,"height":219,"transform":[{"filter":"datum.p==9"}],
 "encoding":{
  "x":{"field":"t","type":"quantitative","scale":{"domain":[0,15.24],"range":[40.8,220.5],"nice":false,"zero":false},"axis":{"offset":-45.3,"values":[0,1,2,3,4,5,6,7,8,9,10,11,12,13,14,15],"labelExpr":"datum.value % 5 === 0 ? datum.label : ''","tickSize":{"condition":{"test":"datum.value % 5 === 0","value":4.5},"value":3},"title":"Time (min)"}},
  "y":{"field":"y","type":"quantitative","scale":{"domain":[0,100],"range":[173.7,37.3],"nice":false,"zero":false},"axis":{"offset":-40.8,"values":[0,5,10,15,20,25,30,35,40,45,50,55,60,65,70,75,80,85,90,95,100],"labelExpr":"datum.value % 20 === 0 ? datum.label : ''","tickSize":{"condition":{"test":"datum.value % 20 === 0","value":4.5},"value":3},"title":"Relative Abundance"}}},
 "layer":[
  {"transform":[{"filter":"datum.k=='tr'"}],"mark":{"type":"line","color":"#2b2b2b","strokeWidth":1}},
  {"transform":[{"filter":"datum.k=='rt'"}],"mark":{"type":"text","align":"left","baseline":"middle","font":"Liberation Sans","fontSize":8,"color":"#2d3a6b"},"encoding":{"text":{"field":"s"}}},
  {"transform":[{"filter":"datum.k=='pk'"}],"mark":{"type":"text","align":"center","baseline":"bottom","dy":-2,"font":"Liberation Sans","fontSize":7,"color":"#333"},"encoding":{"text":{"field":"s"}}},
  {"transform":[{"filter":"datum.k=='nm'"}],"mark":{"type":"text","align":"left","baseline":"middle","font":"Noto Sans CJK SC","fontSize":16,"color":"#484848"},"encoding":{"text":{"field":"s"}}},
  {"transform":[{"filter":"datum.k=='cc'"}],"mark":{"type":"text","align":"left","baseline":"middle","font":"Liberation Serif","fontSize":17,"fontWeight":"bold","color":"#404040"},"encoding":{"text":{"field":"s"}}},
  {"transform":[{"filter":"datum.k=='nl'"}],"mark":{"type":"text","align":"left","baseline":"top","font":"Liberation Sans","fontSize":6.5,"lineHeight":11.5,"lineBreak":"\n","color":"#333"},"encoding":{"text":{"field":"s"}}}
 ]},
{"width":281,"height":219,"transform":[{"filter":"datum.p==10"}],
 "encoding":{
  "x":{"field":"t","type":"quantitative","scale":{"domain":[0,23.84],"range":[42.3,219.2],"nice":false,"zero":false},"axis":{"offset":-45.3,"values":[0,1,2,3,4,5,6,7,8,9,10,11,12,13,14,15,16,17,18,19,20,21,22,23],"labelExpr":"datum.value % 5 === 0 ? datum.label : ''","tickSize":{"condition":{"test":"datum.value % 5 === 0","value":4.5},"value":3},"title":"Time (min)"}},
  "y":{"field":"y","type":"quantitative","scale":{"domain":[0,100],"range":[173.7,37.3],"nice":false,"zero":false},"axis":{"offset":-42.3,"values":[0,5,10,15,20,25,30,35,40,45,50,55,60,65,70,75,80,85,90,95,100],"labelExpr":"datum.value % 20 === 0 ? datum.label : ''","tickSize":{"condition":{"test":"datum.value % 20 === 0","value":4.5},"value":3},"title":"Relative Abundance"}}},
 "layer":[
  {"transform":[{"filter":"datum.k=='tr'"}],"mark":{"type":"line","color":"#2b2b2b","strokeWidth":1}},
  {"transform":[{"filter":"datum.k=='rt'"}],"mark":{"type":"text","align":"left","baseline":"middle","font":"Liberation Sans","fontSize":8,"color":"#2d3a6b"},"encoding":{"text":{"field":"s"}}},
  {"transform":[{"filter":"datum.k=='pk'"}],"mark":{"type":"text","align":"center","baseline":"bottom","dy":-2,"font":"Liberation Sans","fontSize":7,"color":"#333"},"encoding":{"text":{"field":"s"}}},
  {"transform":[{"filter":"datum.k=='nm'"}],"mark":{"type":"text","align":"left","baseline":"middle","font":"Noto Sans CJK SC","fontSize":16,"color":"#484848"},"encoding":{"text":{"field":"s"}}},
  {"transform":[{"filter":"datum.k=='cc'"}],"mark":{"type":"text","align":"left","baseline":"middle","font":"Liberation Serif","fontSize":17,"fontWeight":"bold","color":"#404040"},"encoding":{"text":{"field":"s"}}},
  {"transform":[{"filter":"datum.k=='nl'"}],"mark":{"type":"text","align":"left","baseline":"top","font":"Liberation Sans","fontSize":6.5,"lineHeight":11.5,"lineBreak":"\n","color":"#333"},"encoding":{"text":{"field":"s"}}}
 ]},
{"width":281,"height":219,"transform":[{"filter":"datum.p==11"}],
 "encoding":{
  "x":{"field":"t","type":"quantitative","scale":{"domain":[0,23.84],"range":[44.7,220.6],"nice":false,"zero":false},"axis":{"offset":-45.3,"values":[0,1,2,3,4,5,6,7,8,9,10,11,12,13,14,15,16,17,18,19,20,21,22,23],"labelExpr":"datum.value % 5 === 0 ? datum.label : ''","tickSize":{"condition":{"test":"datum.value % 5 === 0","value":4.5},"value":3},"title":"Time (min)"}},
  "y":{"field":"y","type":"quantitative","scale":{"domain":[0,100],"range":[173.7,37.3],"nice":false,"zero":false},"axis":{"offset":-44.7,"values":[0,5,10,15,20,25,30,35,40,45,50,55,60,65,70,75,80,85,90,95,100],"labelExpr":"datum.value % 20 === 0 ? datum.label : ''","tickSize":{"condition":{"test":"datum.value % 20 === 0","value":4.5},"value":3},"title":"Relative Abundance"}}},
 "layer":[
  {"transform":[{"filter":"datum.k=='tr'"}],"mark":{"type":"line","color":"#2b2b2b","strokeWidth":1}},
  {"transform":[{"filter":"datum.k=='rt'"}],"mark":{"type":"text","align":"left","baseline":"middle","font":"Liberation Sans","fontSize":8,"color":"#2d3a6b"},"encoding":{"text":{"field":"s"}}},
  {"transform":[{"filter":"datum.k=='pk'"}],"mark":{"type":"text","align":"center","baseline":"bottom","dy":-2,"font":"Liberation Sans","fontSize":7,"color":"#333"},"encoding":{"text":{"field":"s"}}},
  {"transform":[{"filter":"datum.k=='nm'"}],"mark":{"type":"text","align":"left","baseline":"middle","font":"Noto Sans CJK SC","fontSize":16,"color":"#484848"},"encoding":{"text":{"field":"s"}}},
  {"transform":[{"filter":"datum.k=='cc'"}],"mark":{"type":"text","align":"left","baseline":"middle","font":"Liberation Serif","fontSize":17,"fontWeight":"bold","color":"#404040"},"encoding":{"text":{"field":"s"}}},
  {"transform":[{"filter":"datum.k=='nl'"}],"mark":{"type":"text","align":"left","baseline":"top","font":"Liberation Sans","fontSize":6.5,"lineHeight":11.5,"lineBreak":"\n","color":"#333"},"encoding":{"text":{"field":"s"}}}
 ]},
{"width":281,"height":219,"transform":[{"filter":"datum.p==12"}],
 "encoding":{
  "x":{"field":"t","type":"quantitative","scale":{"domain":[0,23.84],"range":[46.3,225],"nice":false,"zero":false},"axis":{"offset":-45.3,"values":[0,1,2,3,4,5,6,7,8,9,10,11,12,13,14,15,16,17,18,19,20,21,22,23],"labelExpr":"datum.value % 5 === 0 ? datum.label : ''","tickSize":{"condition":{"test":"datum.value % 5 === 0","value":4.5},"value":3},"title":"Time (min)"}},
  "y":{"field":"y","type":"quantitative","scale":{"domain":[0,100],"range":[173.7,37.3],"nice":false,"zero":false},"axis":{"offset":-46.3,"values":[0,5,10,15,20,25,30,35,40,45,50,55,60,65,70,75,80,85,90,95,100],"labelExpr":"datum.value % 20 === 0 ? datum.label : ''","tickSize":{"condition":{"test":"datum.value % 20 === 0","value":4.5},"value":3},"title":"Relative Abundance"}}},
 "layer":[
  {"transform":[{"filter":"datum.k=='tr'"}],"mark":{"type":"line","color":"#2b2b2b","strokeWidth":1}},
  {"transform":[{"filter":"datum.k=='rt'"}],"mark":{"type":"text","align":"left","baseline":"middle","font":"Liberation Sans","fontSize":8,"color":"#2d3a6b"},"encoding":{"text":{"field":"s"}}},
  {"transform":[{"filter":"datum.k=='pk'"}],"mark":{"type":"text","align":"center","baseline":"bottom","dy":-2,"font":"Liberation Sans","fontSize":7,"color":"#333"},"encoding":{"text":{"field":"s"}}},
  {"transform":[{"filter":"datum.k=='nm'"}],"mark":{"type":"text","align":"left","baseline":"middle","font":"Noto Sans CJK SC","fontSize":16,"color":"#484848"},"encoding":{"text":{"field":"s"}}},
  {"transform":[{"filter":"datum.k=='cc'"}],"mark":{"type":"text","align":"left","baseline":"middle","font":"Liberation Serif","fontSize":17,"fontWeight":"bold","color":"#404040"},"encoding":{"text":{"field":"s"}}},
  {"transform":[{"filter":"datum.k=='nl'"}],"mark":{"type":"text","align":"left","baseline":"top","font":"Liberation Sans","fontSize":6.5,"lineHeight":11.5,"lineBreak":"\n","color":"#333"},"encoding":{"text":{"field":"s"}}}
 ]}
]
}
